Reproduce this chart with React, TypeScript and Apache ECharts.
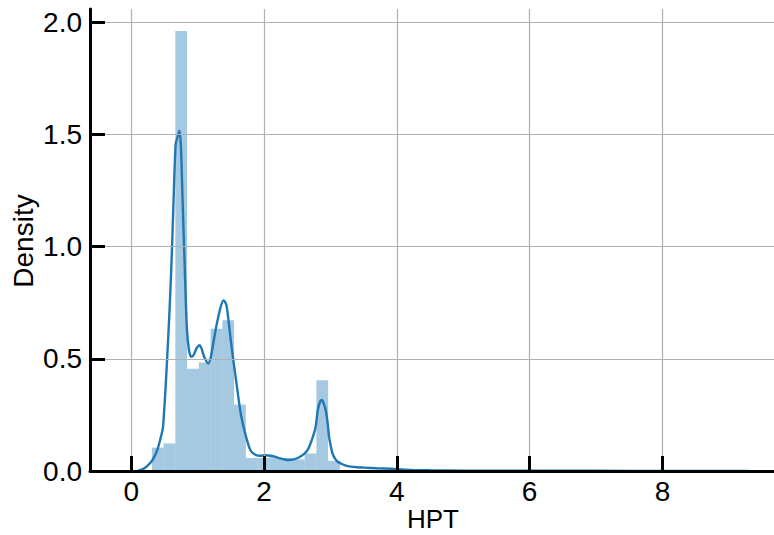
import React, { useEffect, useRef } from "react";
import * as echarts from "echarts";

// Tick positions on both axes
const xTicks = [0, 2, 4, 6, 8];
const yTicks = [0, 0.5, 1.0, 1.5, 2.0];

// Histogram of HPT: 50 equal-width bins, density-normalised heights
const binStart = 0.311;
const binWidth = 0.177;
const binDensity = [
  0.104, 0.123, 1.96, 0.456, 0.483, 0.634, 0.671, 0.296, 0.058, 0.058,
  0.062, 0.058, 0.052, 0.078, 0.404, 0.045, 0.004, 0.003, 0.002, 0.002,
  0.001, 0.001, 0.001, 0, 0.001, 0, 0, 0, 0, 0,
  0, 0, 0, 0, 0, 0, 0, 0, 0, 0,
  0, 0, 0, 0, 0, 0, 0, 0, 0, 0.0006,
];

// Kernel density estimate of HPT
const kdeX = [
  0.1, 0.2, 0.3, 0.35, 0.4, 0.45, 0.48, 0.53, 0.58, 0.61,
  0.64, 0.67, 0.7, 0.727, 0.75, 0.775, 0.8, 0.82, 0.84, 0.87,
  0.9, 0.92, 0.95, 0.99, 1.03, 1.06, 1.09, 1.13, 1.16, 1.2,
  1.24, 1.28, 1.34, 1.39, 1.42, 1.44, 1.47, 1.5, 1.54, 1.58,
  1.65, 1.73, 1.8, 1.88, 1.95, 2.03, 2.1, 2.16, 2.26, 2.36,
  2.45, 2.53, 2.6, 2.66, 2.71, 2.75, 2.78, 2.81, 2.84, 2.87,
  2.9, 2.93, 2.96, 2.98, 3.01, 3.03, 3.07, 3.11, 3.18, 3.26,
  3.4, 3.51, 3.7, 3.91, 4.1, 4.3, 4.5, 5.0, 6.0, 7.0,
  8.0, 9.0, 9.3,
];
const kdeY = [
  0.0, 0.012, 0.04, 0.064, 0.1, 0.155, 0.197, 0.435, 0.73, 0.95,
  1.22, 1.456, 1.49, 1.516, 1.44, 1.2, 0.97, 0.78, 0.63, 0.54,
  0.51, 0.51, 0.523, 0.55, 0.56, 0.545, 0.516, 0.49, 0.479, 0.508,
  0.575, 0.641, 0.723, 0.76, 0.75, 0.73, 0.66, 0.582, 0.49, 0.404,
  0.256, 0.152, 0.09, 0.071, 0.068, 0.07, 0.068, 0.064, 0.055, 0.049,
  0.052, 0.061, 0.075, 0.095, 0.13, 0.165, 0.2, 0.271, 0.305, 0.316,
  0.3, 0.271, 0.21, 0.152, 0.105, 0.079, 0.055, 0.041, 0.03, 0.022,
  0.017, 0.015, 0.012, 0.01, 0.007, 0.004, 0.003, 0.0015, 0.001, 0.0008,
  0.0006, 0.0005, 0.0003,
];

const xTitle = "HPT";
const yTitle = "Density";

const FONT = "'Liberation Sans', Arial, sans-serif";
const FONT_SIZE = 28;

export default function App() {
  const ref = useRef<HTMLDivElement>(null);

  useEffect(() => {
    if (!ref.current) return;
    const chart = echarts.init(ref.current, undefined, { renderer: "svg" });

    const bins = binDensity.map((h, k) => [
      binStart + k * binWidth,
      binStart + (k + 1) * binWidth,
      h,
    ]);
    const kde = kdeX.map((x, i) => [x, kdeY[i]]);

    const axisCommon = {
      z: 10,
      axisLine: {
        show: true,
        onZero: false,
        lineStyle: { color: "#000", width: 3 },
      },
      axisTick: {
        show: true,
        inside: true,
        length: 15,
        lineStyle: { color: "#000", width: 3 },
      },
      splitLine: { show: false },
    };

    chart.setOption({
      animation: false,
      backgroundColor: "#fff",
      grid: {
        left: 90,
        right: 0,
        top: 9,
        bottom: 64,
        containLabel: false,
        outerBoundsMode: "none",
      },
      // axis titles
      graphic: [
        {
          type: "text",
          x: 433,
          y: 519,
          style: {
            text: xTitle,
            fill: "#000",
            font: `26px ${FONT}`,
            align: "center",
            verticalAlign: "middle",
          },
        },
        {
          type: "text",
          x: 23,
          y: 241,
          rotation: Math.PI / 2,
          style: {
            text: yTitle,
            fill: "#000",
            font: `${FONT_SIZE}px ${FONT}`,
            align: "center",
            verticalAlign: "middle",
          },
        },
      ],
      xAxis: {
        ...axisCommon,
        type: "value",
        min: -0.62,
        max: 9.68,
        axisTick: { ...axisCommon.axisTick, customValues: xTicks },
        axisLabel: {
          customValues: xTicks,
          margin: 6,
          color: "#000",
          fontSize: FONT_SIZE,
          fontFamily: FONT,
          formatter: (v: number) => String(v),
        },
      },
      yAxis: {
        ...axisCommon,
        type: "value",
        min: 0,
        max: 2.058,
        axisTick: { ...axisCommon.axisTick, customValues: yTicks },
        axisLabel: {
          customValues: yTicks,
          margin: 8,
          color: "#000",
          fontSize: FONT_SIZE,
          fontFamily: FONT,
          formatter: (v: number) => v.toFixed(1),
        },
      },
      series: [
        {
          // background grid lines
          type: "line",
          data: [],
          z: 0,
          silent: true,
          markLine: {
            silent: true,
            symbol: "none",
            label: { show: false },
            lineStyle: { color: "#b0b0b0", width: 1.2, type: "solid" },
            data: [
              ...xTicks.map((v) => ({ xAxis: v })),
              ...yTicks.filter((v) => v > 0).map((v) => ({ yAxis: v })),
            ],
          },
        },
        {
          type: "custom",
          z: 2,
          data: bins,
          encode: { x: [0, 1], y: 2 },
          renderItem: (_params: any, api: any) => {
            const top = api.coord([api.value(0), api.value(2)]);
            const base = api.coord([api.value(1), 0]);
            return {
              type: "rect",
              shape: {
                x: top[0],
                y: top[1],
                width: base[0] - top[0],
                height: base[1] - top[1],
              },
              style: { fill: "rgba(31,119,180,0.4)" },
            };
          },
        },
        {
          type: "line",
          z: 3,
          data: kde,
          showSymbol: false,
          symbol: "none",
          smooth: 0.25,
          lineStyle: { color: "#1f77b4", width: 2.4 },
        },
      ],
    });

    return () => chart.dispose();
  }, []);

  return (
    <div
      ref={ref}
      style={{ position: "fixed", left: 0, top: 0, width: 774, height: 535 }}
    />
  );
}
